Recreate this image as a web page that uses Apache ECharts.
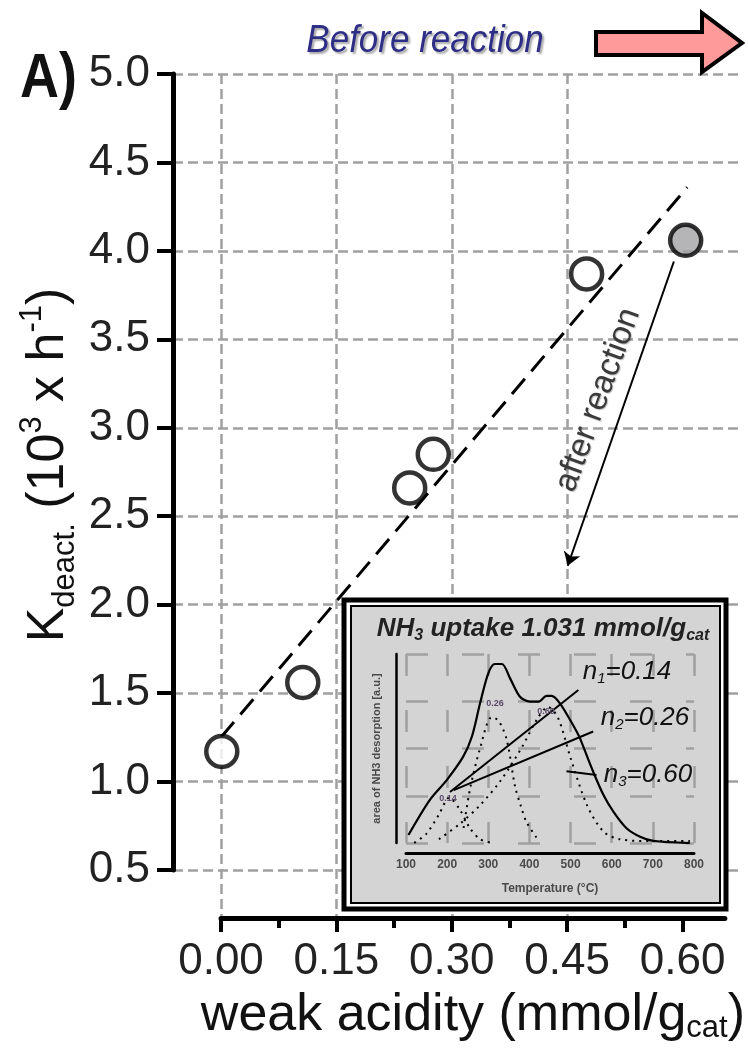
<!DOCTYPE html>
<html>
<head>
<meta charset="utf-8">
<style>
html,body{margin:0;padding:0;background:#fff}
#chart{width:748px;height:1051px}
</style>
<script src="https://cdn.jsdelivr.net/npm/echarts@6.0.0/dist/echarts.min.js"></script>
</head>
<body>
<div id="chart"></div>
<script>
// main panel: k_deact vs weak acidity
var weakAcidity = [0.001, 0.104, 0.240, 0.270, 0.465];
var kDeact = [1.17, 1.56, 2.66, 2.85, 3.87];
var grayAcidity = [0.591];
var grayK = [4.06];
var fitAcidity = [0.0, 0.593];
var fitK = [1.25, 4.36];
var arrowFrom = [0.576, 3.94];
var arrowTo = [0.441, 2.22];
var xMajor = [0, 0.15, 0.30, 0.45, 0.60];
var xMinor = [0.075, 0.225, 0.375, 0.525];

// inset: NH3 TPD profile and its components
var tpdTemp = [106, 158, 199, 239, 260, 280, 300, 316, 333, 353, 377, 401, 422, 442, 454, 474, 499, 515, 523, 555, 580, 604, 636, 669, 701, 790];
var tpdSignal = [0.042, 0.228, 0.333, 0.457, 0.562, 0.739, 0.898, 0.947, 0.947, 0.871, 0.774, 0.748, 0.748, 0.778, 0.778, 0.739, 0.651, 0.589, 0.554, 0.377, 0.254, 0.166, 0.078, 0.033, 0.011, 0];
var comp1Temp = [120, 150, 180, 205, 230, 255, 280, 310];
var comp1Signal = [0.0, 0.05, 0.15, 0.24, 0.18, 0.08, 0.02, 0.0];
var comp2Temp = [240, 256, 280, 308, 325, 345, 365, 380, 393, 420];
var comp2Signal = [0.08, 0.29, 0.50, 0.665, 0.648, 0.545, 0.30, 0.19, 0.11, 0.02];
var comp3Temp = [180, 230, 280, 330, 380, 420, 445, 470, 500, 540, 580, 620, 700, 790];
var comp3Signal = [0.02, 0.10, 0.20, 0.33, 0.50, 0.66, 0.72, 0.66, 0.45, 0.20, 0.06, 0.02, 0.01, 0.01];
var n1Temp = [207, 519], n1Signal = [0.27, 0.81];
var n2Temp = [216, 555], n2Signal = [0.28, 0.59];
var n3Temp = [490, 563], n3Signal = [0.38, 0.36];

function pairs(xs, ys) {
  return xs.map(function (x, i) { return [x, ys[i]]; });
}

var FONT = 'Liberation Sans';
var chart = echarts.init(document.getElementById('chart'), null, { renderer: 'canvas' });

var gridDash = { color: '#a0a0a0', width: 2.5, type: [10, 5] };
var insetDash = { color: '#a0a0a0', width: 2.5, type: [22, 34] };
var nRich = {
  m: { fontSize: 26, fontFamily: FONT, fontStyle: 'italic', fill: '#111', lineHeight: 28 },
  s: { fontSize: 15, fontFamily: FONT, fontStyle: 'italic', fill: '#111', verticalAlign: 'bottom', lineHeight: 12 }
};

var option = {
  animation: false,
  backgroundColor: '#fff',
  grid: [
    { left: 173, right: 8, top: 74, bottom: 181 },   // y axis + horizontal lines
    { left: 221, right: 12, top: 74, bottom: 133 },  // x axis + vertical lines
    { left: 221, right: 12, top: 74, bottom: 181 },  // data
    { left: 406, right: 54, top: 654, bottom: 208 }  // inset
  ],
  xAxis: [
    { gridIndex: 0, type: 'value', min: 0, max: 1, show: false },
    {
      gridIndex: 1, type: 'value', position: 'bottom', min: 0, max: 0.655, interval: 0.15,
      axisLine: { show: true, onZero: false, lineStyle: { color: '#000', width: 5 } },
      axisTick: { show: true, customValues: xMajor, length: 14, lineStyle: { color: '#000', width: 4 } },
      axisLabel: {
        customValues: xMajor, fontSize: 44, margin: 22, color: '#222', fontFamily: FONT,
        formatter: function (v) { return v.toFixed(2); }
      },
      splitLine: { show: true, showMaxLine: false, lineStyle: gridDash },
      name: '{m|weak acidity (mmol/g}{s|cat}{m|)}',
      nameLocation: 'middle', nameGap: 70,
      nameTextStyle: {
        rich: {
          m: { fontSize: 52, fontFamily: FONT, color: '#111', lineHeight: 56 },
          s: { fontSize: 31, fontFamily: FONT, color: '#111', verticalAlign: 'bottom', lineHeight: 22 }
        }
      }
    },
    {
      gridIndex: 1, type: 'value', position: 'bottom', min: 0, max: 0.655,
      axisLine: { show: false, onZero: false },
      axisTick: { show: true, customValues: xMinor, length: 10, lineStyle: { color: '#000', width: 4 } },
      axisLabel: { show: false },
      splitLine: { show: false }
    },
    { gridIndex: 2, type: 'value', min: 0, max: 0.655, show: false },
    {
      gridIndex: 3, type: 'value', min: 100, max: 800, interval: 100, offset: 10, z: 10,
      axisLine: { show: true, onZero: false, lineStyle: { color: '#000', width: 3 } },
      axisTick: { show: false },
      axisLabel: { fontSize: 12, fontWeight: 'bold', color: '#4a4a4a', margin: 6, fontFamily: FONT },
      splitLine: { show: true, lineStyle: insetDash },
      name: 'Temperature (°C)', nameLocation: 'middle', nameGap: 30,
      nameTextStyle: { fontSize: 12, fontWeight: 'bold', color: '#4a4a4a', fontFamily: FONT }
    }
  ],
  yAxis: [
    {
      gridIndex: 0, type: 'value', min: 0.5, max: 5, interval: 0.5,
      axisLine: { show: true, onZero: false, lineStyle: { color: '#000', width: 5 } },
      axisTick: { show: true, length: 16, lineStyle: { color: '#000', width: 4 } },
      axisLabel: {
        fontSize: 44, margin: 23, color: '#222', fontFamily: FONT,
        formatter: function (v) { return v.toFixed(1); }
      },
      splitLine: { show: true, lineStyle: gridDash }
    },
    { gridIndex: 1, type: 'value', min: 0, max: 1, show: false },
    { gridIndex: 2, type: 'value', min: 0.5, max: 5, show: false },
    {
      gridIndex: 3, type: 'value', min: 0, max: 1, interval: 0.25, offset: 10, z: 10,
      axisLine: { show: true, onZero: false, lineStyle: { color: '#000', width: 2.5 } },
      axisTick: { show: false },
      axisLabel: { show: false },
      splitLine: { show: true, lineStyle: insetDash },
      name: 'area of NH3 desorption [a.u.]', nameLocation: 'middle', nameGap: 14, nameRotate: 90,
      nameTextStyle: { fontSize: 11, fontWeight: 'bold', color: '#4a4a4a', fontFamily: FONT }
    }
  ],
  series: [
    {
      type: 'line', xAxisIndex: 3, yAxisIndex: 2, z: 2, silent: true,
      data: pairs(fitAcidity, fitK), symbol: 'none',
      lineStyle: { color: '#000', width: 3, type: [20, 10] },
      markLine: {
        silent: true, symbol: ['none', 'arrow'], symbolSize: 13,
        label: { show: false },
        lineStyle: { color: '#000', width: 2, type: 'solid' },
        data: [[{ coord: arrowFrom }, { coord: arrowTo }]]
      }
    },
    {
      type: 'scatter', xAxisIndex: 3, yAxisIndex: 2, z: 3,
      data: pairs(weakAcidity, kDeact), symbol: 'circle', symbolSize: 31,
      itemStyle: { color: '#fff', borderColor: '#000', borderWidth: 4.5 }
    },
    {
      type: 'scatter', xAxisIndex: 3, yAxisIndex: 2, z: 3,
      data: pairs(grayAcidity, grayK), symbol: 'circle', symbolSize: 31,
      itemStyle: { color: '#a2a2a6', borderColor: '#000', borderWidth: 4.5 }
    },
    {
      type: 'line', xAxisIndex: 4, yAxisIndex: 3, z: 12, symbol: 'none', smooth: 0.3,
      data: pairs(tpdTemp, tpdSignal), lineStyle: { color: '#000', width: 2.2 }
    },
    {
      type: 'line', xAxisIndex: 4, yAxisIndex: 3, z: 12, symbol: 'none', smooth: 0.3,
      data: pairs(comp1Temp, comp1Signal), lineStyle: { color: '#000', width: 2, type: [2, 5] }
    },
    {
      type: 'line', xAxisIndex: 4, yAxisIndex: 3, z: 12, symbol: 'none', smooth: 0.3,
      data: pairs(comp2Temp, comp2Signal), lineStyle: { color: '#000', width: 2, type: [2, 5] }
    },
    {
      type: 'line', xAxisIndex: 4, yAxisIndex: 3, z: 12, symbol: 'none', smooth: 0.3,
      data: pairs(comp3Temp, comp3Signal), lineStyle: { color: '#000', width: 2, type: [2, 5] }
    },
    {
      type: 'line', xAxisIndex: 4, yAxisIndex: 3, z: 12, symbol: 'none',
      data: pairs(n1Temp, n1Signal), lineStyle: { color: '#000', width: 2 }
    },
    {
      type: 'line', xAxisIndex: 4, yAxisIndex: 3, z: 12, symbol: 'none',
      data: pairs(n2Temp, n2Signal), lineStyle: { color: '#000', width: 2 }
    },
    {
      type: 'line', xAxisIndex: 4, yAxisIndex: 3, z: 12, symbol: 'none',
      data: pairs(n3Temp, n3Signal), lineStyle: { color: '#000', width: 2 }
    }
  ],
  graphic: [
    // inset frame
    { type: 'rect', z: 5, shape: { x: 344, y: 600, width: 382, height: 309 },
      style: { fill: '#fff', stroke: '#000', lineWidth: 5 } },
    { type: 'rect', z: 5, shape: { x: 724, y: 603, width: 4, height: 308 },
      style: { fill: '#000' } },
    { type: 'rect', z: 6, shape: { x: 351, y: 606, width: 369, height: 297 },
      style: { fill: '#d4d4d4', stroke: '#000', lineWidth: 2 } },
    // pink arrow
    { type: 'polygon', z: 20,
      shape: { points: [[596, 32], [702, 32], [702, 13], [742, 43], [702, 72], [702, 55], [596, 55]] },
      style: { fill: '#ff9a9a', stroke: '#000', lineWidth: 4 } },
    { type: 'text', z: 20, x: 425, y: 41, scaleY: 1.1,
      style: { text: 'Before reaction', font: 'italic 35px "Liberation Sans"', fill: '#2e2e86',
        align: 'center', verticalAlign: 'middle',
        textShadowColor: 'rgba(0,0,0,0.35)', textShadowOffsetX: 2, textShadowOffsetY: 2, textShadowBlur: 2 } },
    { type: 'text', z: 20, x: 20, y: 80, scaleY: 1.15,
      style: { text: 'A)', font: 'bold 54px "Liberation Sans"', fill: '#111',
        align: 'left', verticalAlign: 'middle' } },
    // y axis title
    { type: 'text', z: 20, x: 49, y: 465, rotation: Math.PI / 2,
      style: {
        text: '{m|K}{s|deact.}{m| (10}{p|3}{m| x h}{p|-1}{m|)}',
        align: 'center', verticalAlign: 'middle',
        rich: {
          m: { fontSize: 52, fontFamily: FONT, fill: '#111', lineHeight: 64 },
          s: { fontSize: 31, fontFamily: FONT, fill: '#111', verticalAlign: 'bottom', lineHeight: 20 },
          p: { fontSize: 31, fontFamily: FONT, fill: '#111', verticalAlign: 'top', lineHeight: 20 }
        }
      } },
    { type: 'text', z: 20, x: 598, y: 400, rotation: 70 * Math.PI / 180,
      style: { text: 'after reaction', font: '33px "Liberation Sans"', fill: '#3a3a3a',
        align: 'center', verticalAlign: 'middle',
        textShadowColor: 'rgba(0,0,0,0.25)', textShadowOffsetX: 1, textShadowOffsetY: 1, textShadowBlur: 1 } },
    // inset texts
    { type: 'text', z: 20, x: 543, y: 629,
      style: {
        text: '{m|NH}{s|3}{m| uptake 1.031 mmol/g}{s|cat}',
        align: 'center', verticalAlign: 'middle',
        rich: {
          m: { fontSize: 26, fontFamily: FONT, fontStyle: 'italic', fontWeight: 'bold', fill: '#222', lineHeight: 30 },
          s: { fontSize: 16, fontFamily: FONT, fontStyle: 'italic', fontWeight: 'bold', fill: '#222', verticalAlign: 'bottom', lineHeight: 14 }
        }
      } },
    { type: 'text', z: 20, x: 627, y: 672,
      style: { text: '{m|n}{s|1}{m|=0.14}', align: 'center', verticalAlign: 'middle', rich: nRich } },
    { type: 'text', z: 20, x: 645, y: 718,
      style: { text: '{m|n}{s|2}{m|=0.26}', align: 'center', verticalAlign: 'middle', rich: nRich } },
    { type: 'text', z: 20, x: 648, y: 775,
      style: { text: '{m|n}{s|3}{m|=0.60}', align: 'center', verticalAlign: 'middle', rich: nRich } },
    { type: 'text', z: 20, x: 448, y: 799,
      style: { text: '0.14', font: 'bold 9px "Liberation Sans"', fill: '#5a4a6a', align: 'center', verticalAlign: 'middle' } },
    { type: 'text', z: 20, x: 495, y: 704,
      style: { text: '0.26', font: 'bold 9px "Liberation Sans"', fill: '#5a4a6a', align: 'center', verticalAlign: 'middle' } },
    { type: 'text', z: 20, x: 546, y: 712,
      style: { text: '0.60', font: 'bold 9px "Liberation Sans"', fill: '#5a4a6a', align: 'center', verticalAlign: 'middle' } }
  ]
};

chart.setOption(option);
</script>
</body>
</html>
